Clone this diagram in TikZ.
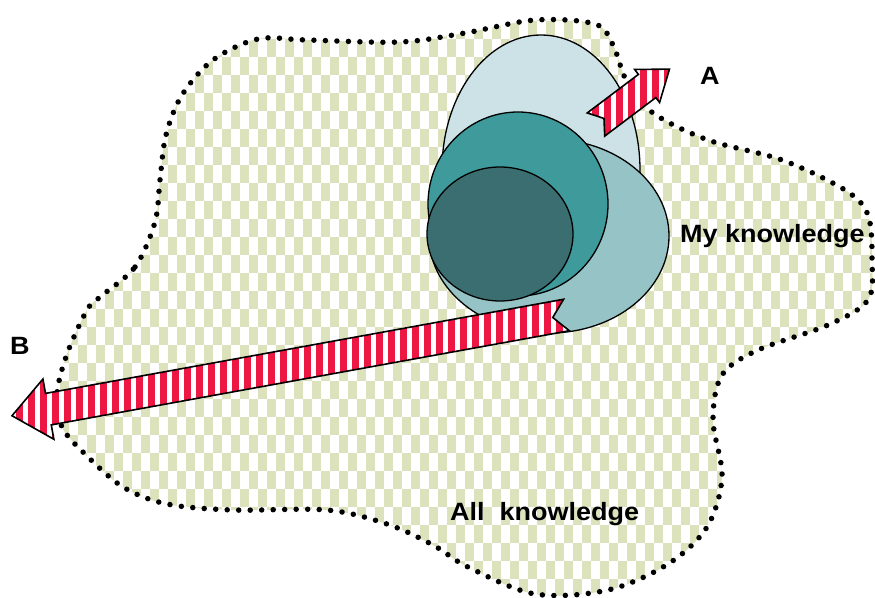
\documentclass[tikz,border=0pt]{standalone}
\usepackage{fontspec}
\usetikzlibrary{shapes.geometric}
\newfontfamily\knowfont[FakeStretch=1.08]{Liberation Sans}
\definecolor{knowolive}{HTML}{DBE2BC}
\definecolor{knowsky}{HTML}{CCE2E6}
\definecolor{knowmist}{HTML}{96C4C6}
\definecolor{knowteal}{HTML}{3E9A9B}
\definecolor{knowdeep}{HTML}{3B6E70}
\definecolor{knowred}{HTML}{EE1744}
\tikzset{
  allknow/.style={draw=black, line width=5.5pt, line cap=round,
    dash pattern=on 0pt off 11.5pt},
  lump/.style={ellipse, draw=black, line width=1.3pt, inner sep=0pt},
  stripy/.style={draw=black, line width=1.6pt, line join=miter},
  tag/.style={font=\knowfont\bfseries\fontsize{25}{28}\selectfont,
    inner sep=0pt, anchor=base west},
}
\newcommand{\allknowpath}{plot[smooth cycle, tension=0.55] coordinates {
  (100,297) (135,267) (155,222) (160,180) (166,135) (182,95) (213,60)
  (258,39) (307,40) (400,42) (465,33) (535,20) (595,24) (613,45)
  (627,82) (653,113) (708,140) (782,160) (845,190) (868,215) (872,260)
  (868,300) (828,325) (758,350) (722,375) (713,420) (722,477) (707,527)
  (668,564) (608,590) (535,594) (468,567) (433,545) (387,524) (327,510)
  (233,510) (167,504) (123,487) (85,454) (62,427) (57,394) (67,354) (87,310)}}

\begin{document}
\begin{tikzpicture}[x=1pt, y=-1pt]
\useasboundingbox[fill=white] (0,0) rectangle (875,597);
% all knowledge, checkered
\begin{scope}
  \clip \allknowpath;
  \fill[knowolive] (40,10) rectangle (880,600);
  \foreach \j in {0,...,32} {
    \pgfmathtruncatemacro{\off}{mod(\j,2)*9}
    \foreach \x in {42,60,...,890}
      \fill[white] (\x+\off,12+\j*18) rectangle ++(9,9);
    \foreach \x in {51,69,...,890}
      \fill[white] (\x-\off,21+\j*18) rectangle ++(9,9);
  }
\end{scope}
\draw[allknow] \allknowpath;
% my knowledge
\node[lump, fill=knowsky, minimum width=198pt, minimum height=270pt] (horizon) at (541,170) {};
\node[lump, fill=knowmist, minimum width=240pt, minimum height=194pt] (familiar) at (549,236) {};
\node[lump, fill=knowteal, minimum width=180pt, minimum height=184pt] (learned) at (518,204) {};
\node[lump, fill=knowdeep, minimum width=146pt, minimum height=134pt] (core) at (500,234) {};
% arrow outlines
\begin{scope}[shift={(566.5,315)}, rotate=190.3]
  \coordinate (b1) at (0,16);        \coordinate (b2) at (526.6,16);
  \coordinate (b3) at (526.6,30.6);  \coordinate (b4) at (563.6,0);
  \coordinate (b5) at (526.6,-30.6); \coordinate (b6) at (526.6,-16);
  \coordinate (b7) at (0,-16);       \coordinate (b8) at (14,0);
\end{scope}
\begin{scope}[shift={(596,124.5)}, rotate=37]
  \coordinate (a1) at (0,14.5);      \coordinate (a2) at (64,14.5);
  \coordinate (a3) at (64,20.7);     \coordinate (a4) at (92,0);
  \coordinate (a5) at (64,-20.7);    \coordinate (a6) at (64,-14.5);
  \coordinate (a7) at (0,-14.5);     \coordinate (a8) at (10,0);
\end{scope}
% B
\begin{scope}
  \clip (b1) -- (b2) -- (b3) -- (b4) -- (b5) -- (b6) -- (b7) -- (b8) -- cycle;
  \fill[white] (0,280) rectangle (580,460);
  \foreach \x in {4,16,...,580}
    \fill[knowred] (\x,280) rectangle ++(6.5,180);
\end{scope}
\draw[stripy] (b1) -- (b2) -- (b3) -- (b4) -- (b5) -- (b6) -- (b7) -- (b8) -- cycle;
% A
\begin{scope}
  \clip (a1) -- (a2) -- (a3) -- (a4) -- (a5) -- (a6) -- (a7) -- (a8) -- cycle;
  \fill[white] (580,60) rectangle (680,145);
  \foreach \x in {580,592,...,680}
    \fill[knowred] (\x,60) rectangle ++(6.5,85);
\end{scope}
\draw[stripy] (a1) -- (a2) -- (a3) -- (a4) -- (a5) -- (a6) -- (a7) -- (a8) -- cycle;
\node[tag] (mine) at (680,242) {My knowledge};
\node[tag] (all) at (450,520) {All\ \ knowledge};
\node[tag] (a) at (700,84) {A};
\node[tag] (b) at (10,354) {B};
\end{tikzpicture}
\end{document}
